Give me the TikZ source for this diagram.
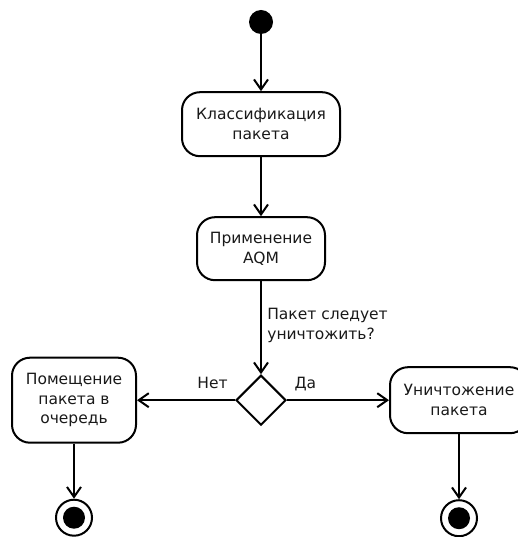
\documentclass[tikz,border=0pt]{standalone}
\usepackage{fontspec}
\setmainfont{DejaVu Sans}
\usetikzlibrary{arrows.meta, positioning, shapes.geometric}

\begin{document}
\begin{tikzpicture}[
    x=1pt, y=1pt,
    action/.style = {draw, line width=2pt, rounded corners=18pt, font=\fontsize{15.5}{19.5}\selectfont, text=black!90, align=center},
    decision/.style = {draw, diamond, line width=2pt, minimum width=50pt, minimum height=50pt, inner sep=0pt},
    startdot/.style = {circle, fill, minimum size=24pt, inner sep=0pt},
    enddot/.style = {circle, draw, line width=2pt, minimum size=36pt, inner sep=0pt, path picture={\fill (path picture bounding box.center) circle (11pt);}},
    flow/.style = {line width=2pt, -{Straight Barb[length=10pt, width=14pt, line width=2pt]}},
    lbl/.style = {font=\fontsize{15.5}{20}\selectfont, text=black!90, text depth=0pt},
  ]
  \useasboundingbox (0,0) rectangle (518,-537);
  \node[startdot] (start) at (261,-22) {};
  \node[action, minimum width=158pt, minimum height=64pt, below=57pt of start] (cls) {Классификация\\пакета};
  \node[action, minimum width=128pt, minimum height=63pt, below=59pt of cls] (aqm) {Применение\\AQM};
  \node[decision, below=93pt of aqm] (drop) {};
  \node[action, minimum width=124pt, minimum height=85pt, left=98pt of drop] (queue) {Помещение\\пакета в\\очередь};
  \node[action, minimum width=138pt, minimum height=66pt, right=102pt of drop] (kill) {Уничтожение\\пакета};
  \node[enddot, below=55pt of queue] (endq) {};
  \node[enddot, below=65pt of kill] (endk) {};

  \draw[flow] (start) -- (cls);
  \draw[flow] (cls) -- (aqm);
  \draw[flow] (aqm) -- node[lbl, right=2pt, align=left, pos=0.46] {Пакет следует\\уничтожить?} (drop);
  \draw[flow] (drop) -- node[lbl, above=7pt, pos=0.23] {Нет} (queue);
  \draw[flow] (drop) -- node[lbl, above=7pt, pos=0.18] {Да} (kill);
  \draw[flow] (queue) -- (endq);
  \draw[flow] (kill) -- (endk);
\end{tikzpicture}
\end{document}
